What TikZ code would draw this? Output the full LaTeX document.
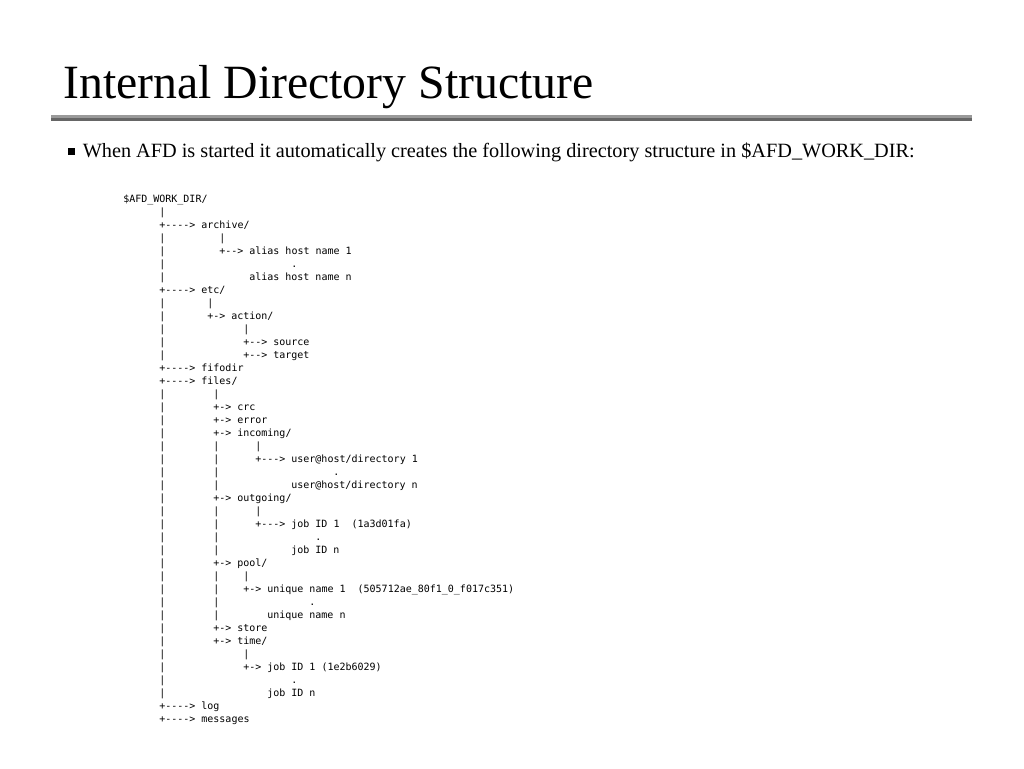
\documentclass[tikz,border=0pt]{standalone}
\usepackage{fontspec}
\setmainfont{Liberation Serif}
\setmonofont{DejaVu Sans Mono}
\usepackage{xcolor}
\definecolor{rulelt}{HTML}{9A9A9A}
\definecolor{ruledk}{HTML}{666666}

\begin{document}
\begin{tikzpicture}[
  x=0.75pt, y=-0.75pt,
  heading/.style={anchor=base west, inner sep=0pt, font=\fontsize{35.8}{40}\selectfont},
  bodytext/.style={anchor=base west, inner sep=0pt, font=\fontsize{15.2}{18}\selectfont},
  tree/.style={anchor=base west, inner sep=0pt, font=\ttfamily\fontsize{7.5}{9.75}\selectfont},
]
\useasboundingbox (0,0) rectangle (1024,768);

\node[heading] (title) at (63,98.5) {Internal Directory Structure};
\fill[rulelt] (51,115) rectangle (972,117.7);
\fill[ruledk] (51,117.7) rectangle (972,121);

\fill[black] (68,148) rectangle (75,155);
\node[bodytext] (intro) at (82.5,157.3) {When AFD is started it automatically creates the following directory structure in \$AFD\_WORK\_DIR:};

\node[tree] (root) at (123,202.5) {\$AFD\_WORK\_DIR/};
\node[tree] (r1) at (159,215.5) {|};
\node[tree] (archive) at (159,228.5) {+----> archive/};
\node[tree] (r3a) at (159,241.5) {|};
\node[tree] (r3b) at (219,241.5) {|};
\node[tree] (r4) at (159,254.5) {|};
\node[tree] (alias1) at (219,254.5) {+--> alias host name 1};
\node[tree] (r5) at (159,267.5) {|};
\node[tree] (r5dot) at (291,267.5) {.};
\node[tree] (r6) at (159,280.5) {|};
\node[tree] (aliasn) at (249,280.5) {alias host name n};
\node[tree] (etc) at (159,293.5) {+----> etc/};
\node[tree] (r8a) at (159,306.5) {|};
\node[tree] (r8b) at (207,306.5) {|};
\node[tree] (r9) at (159,319.5) {|};
\node[tree] (action) at (207,319.5) {+-> action/};
\node[tree] (r10a) at (159,332.5) {|};
\node[tree] (r10b) at (243,332.5) {|};
\node[tree] (r11) at (159,345.5) {|};
\node[tree] (source) at (243,345.5) {+--> source};
\node[tree] (r12) at (159,358.5) {|};
\node[tree] (target) at (243,358.5) {+--> target};
\node[tree] (fifodir) at (159,371.5) {+----> fifodir};
\node[tree] (files) at (159,384.5) {+----> files/};
\node[tree] (r15a) at (159,397.5) {|};
\node[tree] (r15b) at (213,397.5) {|};
\node[tree] (r16) at (159,410.5) {|};
\node[tree] (crc) at (213,410.5) {+-> crc};
\node[tree] (r17) at (159,423.5) {|};
\node[tree] (error) at (213,423.5) {+-> error};
\node[tree] (r18) at (159,436.5) {|};
\node[tree] (incoming) at (213,436.5) {+-> incoming/};
\node[tree] (r19a) at (159,449.5) {|};
\node[tree] (r19b) at (213,449.5) {|};
\node[tree] (r19c) at (255,449.5) {|};
\node[tree] (r20a) at (159,462.5) {|};
\node[tree] (r20b) at (213,462.5) {|};
\node[tree] (user1) at (255,462.5) {+---> user@host/directory 1};
\node[tree] (r21a) at (159,475.5) {|};
\node[tree] (r21b) at (213,475.5) {|};
\node[tree] (r21dot) at (333,475.5) {.};
\node[tree] (r22a) at (159,488.5) {|};
\node[tree] (r22b) at (213,488.5) {|};
\node[tree] (usern) at (291,488.5) {user@host/directory n};
\node[tree] (r23) at (159,501.5) {|};
\node[tree] (outgoing) at (213,501.5) {+-> outgoing/};
\node[tree] (r24a) at (159,514.5) {|};
\node[tree] (r24b) at (213,514.5) {|};
\node[tree] (r24c) at (255,514.5) {|};
\node[tree] (r25a) at (159,527.5) {|};
\node[tree] (r25b) at (213,527.5) {|};
\node[tree] (outjob1) at (255,527.5) {+---> job ID 1~~(1a3d01fa)};
\node[tree] (r26a) at (159,540.5) {|};
\node[tree] (r26b) at (213,540.5) {|};
\node[tree] (r26dot) at (315,540.5) {.};
\node[tree] (r27a) at (159,553.5) {|};
\node[tree] (r27b) at (213,553.5) {|};
\node[tree] (outjobn) at (291,553.5) {job ID n};
\node[tree] (r28) at (159,566.5) {|};
\node[tree] (pool) at (213,566.5) {+-> pool/};
\node[tree] (r29a) at (159,579.5) {|};
\node[tree] (r29b) at (213,579.5) {|};
\node[tree] (r29c) at (243,579.5) {|};
\node[tree] (r30a) at (159,592.5) {|};
\node[tree] (r30b) at (213,592.5) {|};
\node[tree] (unique1) at (243,592.5) {+-> unique name 1~~(505712ae\_80f1\_0\_f017c351)};
\node[tree] (r31a) at (159,605.5) {|};
\node[tree] (r31b) at (213,605.5) {|};
\node[tree] (r31dot) at (309,605.5) {.};
\node[tree] (r32a) at (159,618.5) {|};
\node[tree] (r32b) at (213,618.5) {|};
\node[tree] (uniquen) at (267,618.5) {unique name n};
\node[tree] (r33) at (159,631.5) {|};
\node[tree] (store) at (213,631.5) {+-> store};
\node[tree] (r34) at (159,644.5) {|};
\node[tree] (time) at (213,644.5) {+-> time/};
\node[tree] (r35a) at (159,657.5) {|};
\node[tree] (r35b) at (243,657.5) {|};
\node[tree] (r36) at (159,670.5) {|};
\node[tree] (timejob1) at (243,670.5) {+-> job ID 1 (1e2b6029)};
\node[tree] (r37) at (159,683.5) {|};
\node[tree] (r37dot) at (291,683.5) {.};
\node[tree] (r38) at (159,696.5) {|};
\node[tree] (timejobn) at (267,696.5) {job ID n};
\node[tree] (log) at (159,709.5) {+----> log};
\node[tree] (messages) at (159,722.5) {+----> messages};

\end{tikzpicture}
\end{document}
